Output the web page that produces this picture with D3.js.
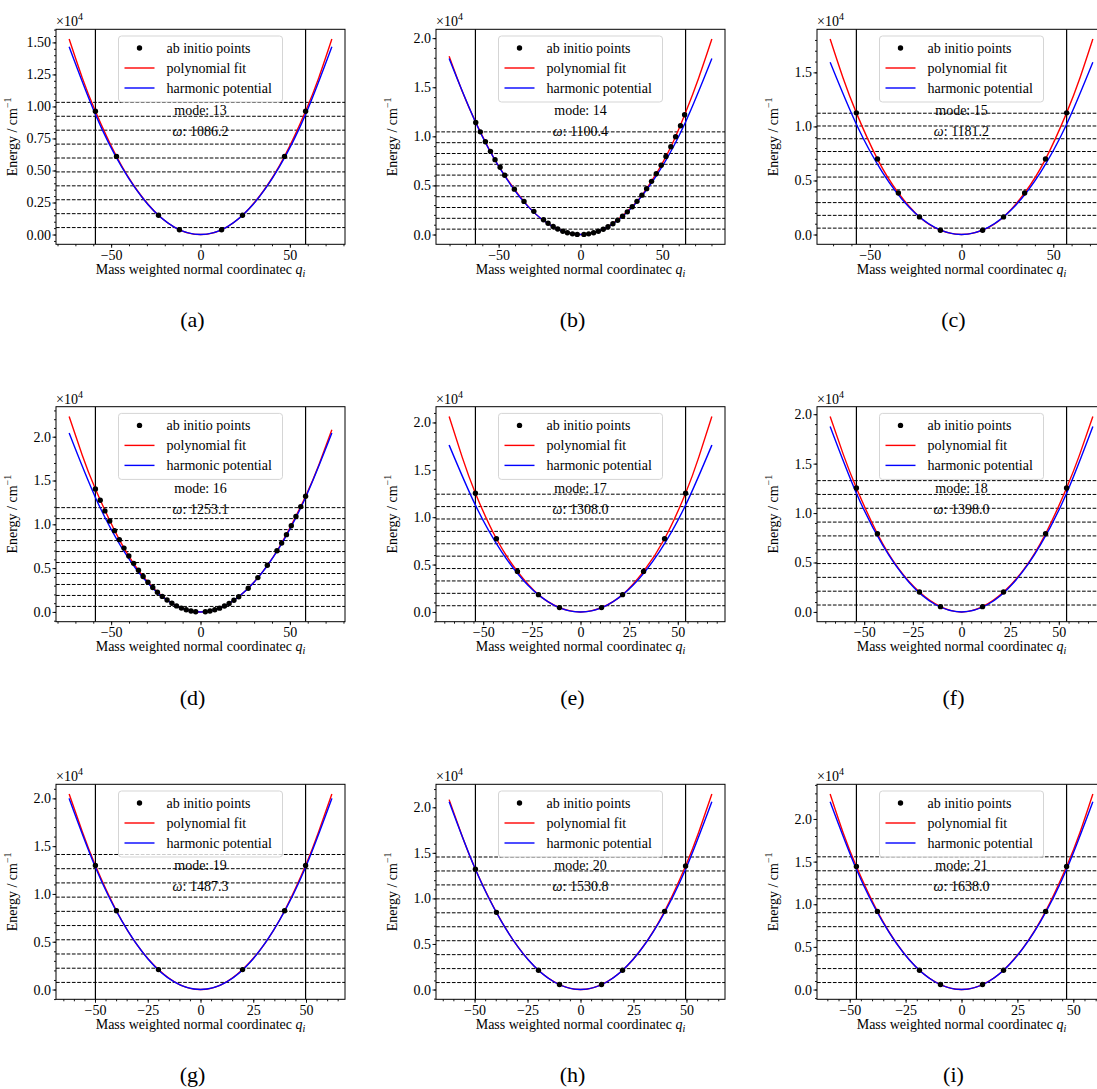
<!DOCTYPE html>
<html>
<head>
<meta charset="utf-8">
<script src="https://cdn.jsdelivr.net/npm/d3@7"></script>
<style>
  body { margin: 0; background: #ffffff; }
  text { font-family: "Liberation Serif", "Times New Roman", serif; fill: #000; }
</style>
</head>
<body>
<div id="chart"></div>
<script>
var W = 1097, H = 1089;

// ---- data (energies in cm^-1, q in mass weighted units) ----
var panelLabels = ["(a)", "(b)", "(c)", "(d)", "(e)", "(f)", "(g)", "(h)", "(i)"];
var modes = [13, 14, 15, 16, 17, 18, 19, 20, 21];
var omegas = [1086.2, 1100.4, 1181.2, 1253.1, 1308.0, 1398.0, 1487.3, 1530.8, 1638.0];
var turningPoints = [58.8, 64.2, 57.3, 58.8, 54.0, 54.0, 49.8, 49.6, 47.0];
var xTickSteps = [50, 50, 50, 50, 25, 25, 25, 25, 25];
var yTickSteps = [2500, 5000, 5000, 5000, 5000, 5000, 5000, 5000, 5000];
var yTickDecimals = [2, 1, 1, 1, 1, 1, 1, 1, 1];

var levels = [
  [543, 1629, 2716, 3802, 4888, 5974, 7060, 8147, 9233, 10319],
  [550, 1651, 2751, 3851, 4952, 6052, 7153, 8253, 9353, 10454],
  [591, 1772, 2953, 4134, 5315, 6497, 7678, 8859, 10040, 11221],
  [627, 1880, 3133, 4386, 5639, 6892, 8145, 9398, 10651, 11904],
  [654, 1962, 3270, 4578, 5886, 7194, 8502, 9810, 11118, 12426],
  [699, 2097, 3495, 4893, 6291, 7689, 9087, 10485, 11883, 13281],
  [744, 2231, 3718, 5206, 6693, 8180, 9667, 11155, 12642, 14129],
  [765, 2296, 3827, 5358, 6889, 8419, 9950, 11481, 13012, 14543],
  [819, 2457, 4095, 5733, 7371, 9009, 10647, 12285, 13923, 15561]
];

var harmonic = [
  [[-73.5,14660],[-58.8,9380],[-44.1,5276],[-29.4,2345],[-14.7,586],[0,0],[14.7,586],[29.4,2345],[44.1,5276],[58.8,9380],[73.5,14660]],
  [[-80.25,17915],[-64.2,11466],[-48.15,6450],[-32.1,2867],[-16.05,717],[0,0],[16.05,717],[32.1,2867],[48.15,6450],[64.2,11466],[80.25,17915]],
  [[-71.6,15930],[-57.3,10195],[-43.0,5735],[-28.65,2549],[-14.3,637],[0,0],[14.3,637],[28.65,2549],[43.0,5735],[57.3,10195],[71.6,15930]],
  [[-73.5,20420],[-58.8,13069],[-44.1,7351],[-29.4,3267],[-14.7,817],[0,0],[14.7,817],[29.4,3267],[44.1,7351],[58.8,13069],[73.5,20420]],
  [[-67.5,17610],[-54,11270],[-40.5,6339],[-27,2818],[-13.5,704],[0,0],[13.5,704],[27,2818],[40.5,6339],[54,11270],[67.5,17610]],
  [[-67.5,18760],[-54,12006],[-40.5,6753],[-27,3002],[-13.5,750],[0,0],[13.5,750],[27,3002],[40.5,6753],[54,12006],[67.5,18760]],
  [[-62.25,20000],[-49.8,12800],[-37.35,7200],[-24.9,3200],[-12.45,800],[0,0],[12.45,800],[24.9,3200],[37.35,7200],[49.8,12800],[62.25,20000]],
  [[-62,20620],[-49.6,13197],[-37.2,7423],[-24.8,3299],[-12.4,825],[0,0],[12.4,825],[24.8,3299],[37.2,7423],[49.6,13197],[62,20620]],
  [[-58.75,22030],[-47,14099],[-35.25,7931],[-23.5,3525],[-11.75,881],[0,0],[11.75,881],[23.5,3525],[35.25,7931],[47,14099],[58.75,22030]]
];

var polyFit = [
  [[-73.5,15260],[-66.2,12250],[-58.8,9630],[-47.0,6100],[-35.3,3420],[-23.5,1500],[-11.8,370],[0,0],[11.8,370],[23.5,1500],[35.3,3420],[47.0,6100],[58.8,9630],[66.2,12250],[73.5,15260]],
  [[-80.25,18150],[-72.2,14560],[-64.2,11500],[-56.2,8800],[-48.15,6480],[-32.1,2890],[-16.05,725],[0,0],[16.05,720],[32.1,2920],[40.1,4608],[48.15,6717],[56.2,9274],[64.2,12420],[72.2,15950],[80.25,19905]],
  [[-71.6,18080],[-64.5,14450],[-57.3,11255],[-45.8,6980],[-34.4,3844],[-22.9,1630],[-11.5,400],[0,0],[11.5,400],[22.9,1630],[34.4,3844],[45.8,6980],[57.3,11255],[64.5,14450],[71.6,18080]],
  [[-73.5,22310],[-66.2,17920],[-58.8,14039],[-44.1,7760],[-29.4,3388],[-14.7,832],[0,0],[14.7,819],[29.4,3285],[44.1,7410],[58.8,13210],[66.2,16770],[73.5,20800]],
  [[-67.5,20630],[-60.75,16310],[-54,12526],[-43.2,7720],[-32.4,4280],[-21.6,1825],[-10.8,456],[0,0],[10.8,456],[21.6,1825],[32.4,4280],[43.2,7720],[54,12526],[60.75,16310],[67.5,20630]],
  [[-67.5,19770],[-60.75,15935],[-54,12530],[-43.2,7906],[-32.4,4400],[-21.6,2010],[-10.8,536],[0,0],[10.8,536],[21.6,2010],[32.4,4400],[43.2,7906],[54,12530],[60.75,15935],[67.5,19770]],
  [[-62.25,20450],[-56,16500],[-49.8,12970],[-39.84,8240],[-29.88,4620],[-19.92,2087],[-9.96,515],[0,0],[9.96,515],[19.92,2087],[29.88,4620],[39.84,8240],[49.8,12970],[56,16500],[62.25,20450]],
  [[-62,20840],[-55.8,16800],[-49.6,13200],[-39.68,8470],[-29.76,4760],[-19.84,2110],[-9.92,545],[0,0],[9.92,540],[19.84,2110],[29.76,4780],[39.68,8580],[49.6,13560],[55.8,17260],[62,21450]],
  [[-58.75,22920],[-52.9,18350],[-47,14425],[-37.6,9160],[-28.2,5120],[-18.8,2260],[-9.4,585],[0,0],[9.4,585],[18.8,2260],[28.2,5120],[37.6,9160],[47,14425],[52.9,18350],[58.75,22920]]
];

var abInitio = [
  [[-58.8,9630],[-47.0,6100],[-23.5,1500],[-11.8,370],[11.8,370],[23.5,1500],[47.0,6100],[58.8,9630]],
  [[-64.0,11420],[-61.2,10459],[-58.1,9447],[-55.0,8469],[-52.2,7625],[-49.1,6849],[-46.3,6039],[-40.4,4622],[-34.5,3374],[-28.5,2362],[-22.6,1500],[-19.8,1150],[-16.7,820],[-13.9,560],[-10.8,337],[-8.0,175],[-4.9,67],[-2.0,11],
   [2.1,12],[5.0,70],[8.0,178],[10.9,332],[13.9,540],[16.8,789],[19.8,1099],[22.7,1447],[25.7,1859],[28.6,2309],[31.6,2827],[34.5,3381],[37.5,4010],[40.4,4673],[43.4,5416],[46.3,6192],[49.3,7055],[52.2,7950],[55.2,8938],[58.1,9957],[61.1,11078],[63.6,12200]],
  [[-57.3,11255],[-45.8,6980],[-34.4,3844],[-22.9,1630],[-11.5,400],[11.5,400],[22.9,1630],[34.4,3844],[45.8,6980],[57.3,11255]],
  [[-58.8,14039],[-56.1,12751],[-53.5,11529],[-50.8,10373],[-48.1,9280],[-45.4,8251],[-42.8,7286],[-40.1,6382],[-37.4,5543],[-34.7,4763],[-32.1,4045],[-29.4,3388],[-26.7,2791],[-24.1,2253],[-21.4,1775],[-18.7,1354],[-16.0,992],[-13.4,686],[-10.7,438],[-8.0,245],[-5.3,109],[-2.7,27],
   [2.7,28],[5.3,106],[8.0,242],[10.7,434],[13.4,681],[16.0,971],[18.7,1327],[21.4,1738],[26.7,2708],[32.1,3918],[37.4,5324],[42.8,6979],[45.4,7856],[48.1,8822],[50.8,9845],[53.4,10886],[56.1,12019],[58.8,13210]],
  [[-54,12526],[-43.2,7720],[-32.4,4280],[-21.6,1825],[-10.8,456],[10.8,456],[21.6,1825],[32.4,4280],[43.2,7720],[54,12526]],
  [[-54,12530],[-43.2,7906],[-21.6,2010],[-10.8,536],[10.8,536],[21.6,2010],[43.2,7906],[54,12530]],
  [[-49.8,12970],[-39.84,8240],[-19.92,2087],[19.92,2087],[39.84,8240],[49.8,12970]],
  [[-49.6,13200],[-39.68,8470],[-19.84,2110],[-9.92,545],[9.92,545],[19.84,2110],[39.68,8580],[49.6,13560]],
  [[-47,14425],[-37.6,9160],[-18.8,2260],[-9.4,585],[9.4,585],[18.8,2260],[37.6,9160],[47,14425]]
];

// ---- layout ----
var colLeft = [56, 436, 817],
    rowTop = [29.3, 406.7, 784.3],
    axW = 289, axH = 215;

var svg = d3.select("#chart").append("svg")
    .attr("width", W)
    .attr("height", H);

svg.append("rect").attr("width", W).attr("height", H).attr("fill", "#ffffff");

var line = d3.line().curve(d3.curveNatural);

modes.forEach(function(mode, i) {
    var left = colLeft[i % 3], top = rowTop[Math.floor(i / 3)];
    var g = svg.append("g").attr("transform", `translate(${left},${top})`);

    // matplotlib style autoscale: data extent + 5% margins
    var all = polyFit[i].concat(harmonic[i]);
    var qExt = d3.extent(all, d => d[0]);
    var eMax = d3.max(all, d => d[1]);
    var qPad = (qExt[1] - qExt[0]) * 0.05, ePad = eMax * 0.05;

    var x = d3.scaleLinear().domain([qExt[0] - qPad, qExt[1] + qPad]).range([0, axW]);
    var y = d3.scaleLinear().domain([-ePad, eMax + ePad]).range([axH, 0]);

    svg.append("clipPath").attr("id", "clip" + i)
        .append("rect").attr("width", axW).attr("height", axH);

    var plot = g.append("g").attr("clip-path", `url(#clip${i})`);

    // mode / omega annotation
    plot.append("text")
        .attr("x", axW / 2).attr("y", 86)
        .attr("text-anchor", "middle")
        .attr("font-size", 14)
        .text("mode: " + mode);
    var om = plot.append("text")
        .attr("x", axW / 2).attr("y", 107)
        .attr("text-anchor", "middle")
        .attr("font-size", 14);
    om.append("tspan").attr("font-style", "italic").text("\u03c9");
    om.append("tspan").text(": " + d3.format(".1f")(omegas[i]));

    // vibrational levels
    plot.selectAll(".lvl")
        .data(levels[i])
        .enter().append("line")
        .attr("x1", 0).attr("x2", axW)
        .attr("y1", d => y(d)).attr("y2", d => y(d))
        .attr("stroke", "#000")
        .attr("stroke-width", 1)
        .attr("stroke-dasharray", "3.7,1.6");

    // turning points
    plot.selectAll(".tp")
        .data([-turningPoints[i], turningPoints[i]])
        .enter().append("line")
        .attr("x1", d => x(d)).attr("x2", d => x(d))
        .attr("y1", 0).attr("y2", axH)
        .attr("stroke", "#000")
        .attr("stroke-width", 1.2);

    plot.append("path")
        .datum(polyFit[i])
        .attr("d", d => line(d.map(p => [x(p[0]), y(p[1])])))
        .attr("fill", "none")
        .attr("stroke", "#ff0000")
        .attr("stroke-width", 1.4);

    plot.append("path")
        .datum(harmonic[i])
        .attr("d", d => line(d.map(p => [x(p[0]), y(p[1])])))
        .attr("fill", "none")
        .attr("stroke", "#0000ff")
        .attr("stroke-width", 1.4);

    plot.selectAll(".pt")
        .data(abInitio[i])
        .enter().append("circle")
        .attr("cx", d => x(d[0]))
        .attr("cy", d => y(d[1]))
        .attr("r", 2.7)
        .attr("fill", "#000");

    // frame
    g.append("rect")
        .attr("width", axW).attr("height", axH)
        .attr("fill", "none")
        .attr("stroke", "#000")
        .attr("stroke-width", 1);

    // axes
    var xs = xTickSteps[i], ys = yTickSteps[i];
    var xd = x.domain(), yd = y.domain();
    var xMajor = d3.range(Math.ceil(xd[0] / xs) * xs, xd[1] + 1e-9, xs);
    var xMinor = d3.range(Math.ceil(xd[0] / (xs / 5)) * (xs / 5), xd[1] + 1e-9, xs / 5);
    var yMajor = d3.range(Math.ceil(yd[0] / ys) * ys, yd[1] + 1e-9, ys);
    var yMinor = d3.range(Math.ceil(yd[0] / (ys / 5)) * (ys / 5), yd[1] + 1e-9, ys / 5);

    var xAxMinor = g.append("g").attr("transform", `translate(0,${axH})`)
        .call(d3.axisBottom(x).tickValues(xMinor).tickSize(2).tickFormat(""));
    var xAx = g.append("g").attr("transform", `translate(0,${axH})`)
        .call(d3.axisBottom(x).tickValues(xMajor).tickSize(3.5).tickPadding(2).tickFormat(d3.format("d")));
    var yAxMinor = g.append("g")
        .call(d3.axisLeft(y).tickValues(yMinor).tickSize(2).tickFormat(""));
    var yAx = g.append("g")
        .call(d3.axisLeft(y).tickValues(yMajor).tickSize(3.5).tickPadding(1.5)
            .tickFormat(d => d3.format("." + yTickDecimals[i] + "f")(d / 1e4)));

    [xAxMinor, xAx, yAxMinor, yAx].forEach(function(a) {
        a.select(".domain").remove();
        a.selectAll("line").attr("stroke", "#000").attr("stroke-width", 0.9);
        a.selectAll("text")
            .attr("font-family", "Liberation Serif, Times New Roman, serif")
            .attr("font-size", 14)
            .attr("fill", "#000");
    });

    // offset text  x10^4
    var off = g.append("text").attr("x", 0).attr("y", -3).attr("font-size", 14);
    off.append("tspan").text("\u00d710");
    off.append("tspan").attr("font-size", 10).attr("dy", -6).text("4");

    // axis labels
    var xl = g.append("text")
        .attr("x", axW / 2).attr("y", axH + 29.5)
        .attr("text-anchor", "middle")
        .attr("font-size", 14);
    xl.append("tspan").text("Mass weighted normal coordinatec ");
    xl.append("tspan").attr("font-style", "italic").text("q");
    xl.append("tspan").attr("font-style", "italic").attr("font-size", 10).attr("dy", 3).text("i");

    var yl = g.append("text")
        .attr("transform", `translate(-39,${axH / 2}) rotate(-90)`)
        .attr("text-anchor", "middle")
        .attr("font-size", 14);
    yl.append("tspan").text("Energy / cm");
    yl.append("tspan").attr("font-size", 10).attr("dy", -6).text("\u22121");

    // legend
    var lgW = 164, lgH = 66;
    var lg = g.append("g").attr("transform", `translate(${axW / 2 - lgW / 2},6.7)`);
    lg.append("rect")
        .attr("width", lgW).attr("height", lgH)
        .attr("rx", 3)
        .attr("fill", "#ffffff").attr("fill-opacity", 0.8)
        .attr("stroke", "#d5d5d5");
    var entries = [
        { name: "ab initio points", kind: "pt", color: "#000" },
        { name: "polynomial fit", kind: "ln", color: "#ff0000" },
        { name: "harmonic potential", kind: "ln", color: "#0000ff" }
    ];
    entries.forEach(function(e, k) {
        var cy = 12 + k * 20;
        if (e.kind === "pt") {
            lg.append("circle").attr("cx", 21).attr("cy", cy).attr("r", 2.7).attr("fill", e.color);
        } else {
            lg.append("line").attr("x1", 6).attr("x2", 36).attr("y1", cy).attr("y2", cy)
                .attr("stroke", e.color).attr("stroke-width", 1.4);
        }
        lg.append("text").attr("x", 48).attr("y", cy + 5).attr("font-size", 14).text(e.name);
    });

    // sub-figure label
    svg.append("text")
        .attr("x", left + axW / 2 - 8)
        .attr("y", top + 298)
        .attr("text-anchor", "middle")
        .attr("font-size", 22)
        .text(panelLabels[i]);
});
</script>
</body>
</html>
